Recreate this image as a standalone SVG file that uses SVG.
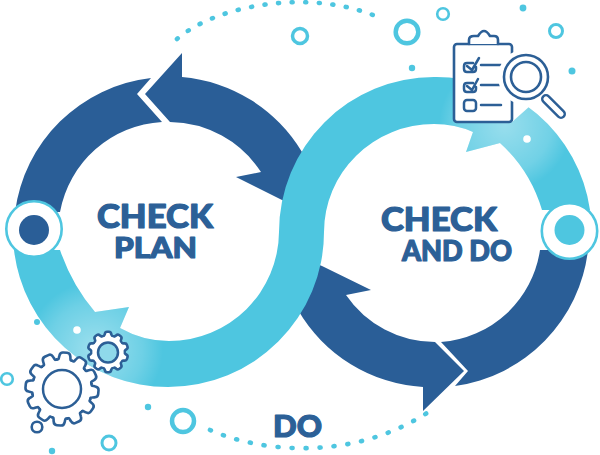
<svg xmlns="http://www.w3.org/2000/svg" xmlns:xlink="http://www.w3.org/1999/xlink" width="600" height="455" viewBox="0 0 600 455">
<style>
.dark{fill:#2A5E97}
.cy{fill:#4EC6E0}
.dot{fill:#4EC6E0}
.ring{fill:#fff;stroke:#4EC6E0}
.lbl{font-family:"Lato","Liberation Sans",sans-serif;font-weight:900;fill:#2C6097;stroke:#2C6097;stroke-width:1.2;paint-order:stroke;stroke-linejoin:round}
.ln{fill:none;stroke:#2C5F96;stroke-width:2.5;stroke-linecap:round;stroke-linejoin:round}
.dots{fill:none;stroke:#4EC6E0;stroke-width:4.6;stroke-linecap:round}
.t{fill:#fff;stroke:#2C5F96;stroke-width:2.6;stroke-linejoin:round;stroke-linecap:round}
</style>
<defs>
<radialGradient id="g1" gradientUnits="userSpaceOnUse" cx="505" cy="125" r="66"><stop offset="0" stop-color="#fff" stop-opacity=".42"/><stop offset=".7" stop-color="#fff" stop-opacity=".2"/><stop offset="1" stop-color="#fff" stop-opacity="0"/></radialGradient>
<radialGradient id="g2" gradientUnits="userSpaceOnUse" cx="95" cy="350" r="68"><stop offset="0" stop-color="#fff" stop-opacity=".45"/><stop offset=".7" stop-color="#fff" stop-opacity=".18"/><stop offset="1" stop-color="#fff" stop-opacity="0"/></radialGradient>
<path id="band" d="M590 210A155 155 0 0 0 434 77A155 155 0 0 0 279 232A110 110 0 0 1 169 341Q143 341 120 328L129 307L95 312Q72 285 60 250L14 250A155 155 0 0 0 168 387A156 155 0 0 0 324 232A110 108 0 0 1 434 124Q455 124 473 132L466 152L500 143Q530 170 542 210Z"/>
<path id="tb" d="M-7.8-29C-5.5-28.5-6-30-5.5-33Q-5-36.5-2-36.5L2-36.5Q5-36.5 5.5-33C6-30 5.5-28.5 7.8-29"/>
<path id="ts" d="M-5.1-15.7C-3.8-15.5-3.6-17-3.2-18Q-2.8-20.2-1-20.2L1-20.2Q2.8-20.2 3.2-18C3.6-17 3.8-15.5 5.1-15.7"/>
</defs>
<g id="connectors">
<path class="dark" d="M15 212A155 155 0 0 1 151 78L137 94L162 122A110 110 0 0 0 60 212Z"/>
<path class="dark" d="M182 53L182 77A155 155 0 0 1 302 152L292 206L282 200L236 177L261 172A110 110 0 0 0 170 122L145 94Z"/>
<path class="dark" d="M588 250A155 155 0 0 1 455 386L468 371L441 342A108 108 0 0 0 540 250Z"/>
<path class="dark" d="M423 411L423 387A155 155 0 0 1 298 310L312 262L322 266L371 290L346 295A108 108 0 0 0 435 342L464 371Z"/>
<use xlink:href="#band" class="cy"/>
<use xlink:href="#band" fill="url(#g1)"/>
<use xlink:href="#band" fill="url(#g2)"/>
<path class="dots" stroke-dasharray="1 12.6" d="M177 39C220 2 320-12 384 20"/>
<path class="dots" stroke-dasharray="1 13" d="M210 430C260 452 350 462 427 413"/>
</g>
<g id="node-left"><circle cx="34" cy="229" r="27.7" class="ring" stroke-width="2.6"/><circle cx="34" cy="230" r="15" class="dark"/></g>
<g id="node-right"><circle cx="569.5" cy="231" r="27.7" class="ring" stroke-width="2.6"/><circle cx="569.5" cy="230" r="15" class="cy"/></g>
<g id="clipboard">
<path fill="#fff" stroke="none" d="M512 122L530 106L545 96L520 50L512 40Z"/>
<rect class="t" x="454" y="44" width="58" height="78" rx="3"/>
<path class="t" d="M469 44L469 40Q469 36 474 36L478 36Q481 31 484 31Q487 31 490 36L494 36Q498 36 498 40L498 44"/>
<path class="ln" d="M481 65L501 65M481 85L501 85M481 105L501 105"/>
<path class="ln" d="M473 63L467 63Q464 63 464 66L464 69Q464 72 467 72L473 72Q476 72 476 69L476 67M467 66L472 70L479 58"/>
<path class="ln" d="M473 83L467 83Q464 83 464 86L464 89Q464 92 467 92L473 92Q476 92 476 89L476 87M467 86L472 90L478 79"/>
<rect class="ln" x="464" y="100" width="12" height="11" rx="3"/>
<circle cx="526" cy="77" r="28" fill="#fff"/>
<path d="M546 99L561 114" stroke="#2C5F96" stroke-width="10" stroke-linecap="round"/>
<path d="M546 99L561 114" stroke="#fff" stroke-width="5.2" stroke-linecap="round"/>
<circle class="t" cx="526" cy="77" r="22"/>
<circle class="t" cx="526" cy="77" r="15"/>
</g>
<g id="gear-small">
<circle cx="108" cy="352" r="16.5" fill="#fff"/>
<g transform="translate(108 352)"><use xlink:href="#ts" class="t"/><use xlink:href="#ts" class="t" transform="rotate(36)"/><use xlink:href="#ts" class="t" transform="rotate(72)"/><use xlink:href="#ts" class="t" transform="rotate(108)"/><use xlink:href="#ts" class="t" transform="rotate(144)"/><use xlink:href="#ts" class="t" transform="rotate(180)"/><use xlink:href="#ts" class="t" transform="rotate(216)"/><use xlink:href="#ts" class="t" transform="rotate(252)"/><use xlink:href="#ts" class="t" transform="rotate(288)"/><use xlink:href="#ts" class="t" transform="rotate(324)"/></g>
<circle cx="108" cy="352" r="15.6" fill="#fff"/>
<circle cx="108" cy="352.500" r="10" fill="#8FD9EA" stroke="#2C5F96" stroke-width="2.5"/>
</g>
<g id="gear-big">
<circle cx="62" cy="389" r="30" fill="#fff"/>
<g transform="translate(62 389) rotate(5)"><use xlink:href="#tb" class="t"/><use xlink:href="#tb" class="t" transform="rotate(30)"/><use xlink:href="#tb" class="t" transform="rotate(60)"/><use xlink:href="#tb" class="t" transform="rotate(90)"/><use xlink:href="#tb" class="t" transform="rotate(120)"/><use xlink:href="#tb" class="t" transform="rotate(150)"/><use xlink:href="#tb" class="t" transform="rotate(180)"/><use xlink:href="#tb" class="t" transform="rotate(210)"/><use xlink:href="#tb" class="t" transform="rotate(240)"/><use xlink:href="#tb" class="t" transform="rotate(270)"/><use xlink:href="#tb" class="t" transform="rotate(300)"/><use xlink:href="#tb" class="t" transform="rotate(330)"/></g>
<circle cx="62" cy="389" r="28.500" fill="#fff"/>
<circle cx="62" cy="389" r="19" fill="#fff" stroke="#2C5F96" stroke-width="2.5"/>
</g>
<g id="decor">
<circle class="ring" cx="300" cy="36" r="7.500" stroke-width="3.500"/>
<circle class="ring" cx="407" cy="32" r="11.300" stroke-width="4.500"/>
<circle class="ring" cx="443" cy="14" r="5.800" stroke-width="2.600"/>
<circle class="ring" cx="556" cy="31" r="6.500" stroke-width="3"/>
<circle class="ring" cx="7" cy="379" r="5.800" stroke-width="2.600"/>
<circle class="ring" cx="183" cy="421" r="11" stroke-width="4.500"/>
<circle class="ring" cx="109" cy="443" r="7" stroke-width="3"/>
<circle cx="37" cy="427" r="5.300" fill="#fff" stroke="#2C5F96" stroke-width="2.600"/>
<circle class="dot" cx="523" cy="8" r="3.400"/>
<circle class="dot" cx="412" cy="68" r="3.200"/>
<circle class="dot" cx="572" cy="71" r="3.500"/>
<circle class="dot" cx="148" cy="407" r="3.200"/>
<circle class="dot" cx="52" cy="451" r="3.200"/>
<circle class="dot" cx="37" cy="322" r="3"/>
<circle cx="527" cy="139" r="3.800" fill="#fff"/>
<circle cx="77" cy="330" r="3.800" fill="#fff"/>
</g>
<g id="labels">
<text class="lbl" x="97" y="228" font-size="32" textLength="116" lengthAdjust="spacingAndGlyphs">CHECK</text>
<text class="lbl" x="114" y="258" font-size="29" textLength="83" lengthAdjust="spacingAndGlyphs">PLAN</text>
<text class="lbl" x="381" y="231" font-size="32" textLength="116" lengthAdjust="spacingAndGlyphs">CHECK</text>
<text class="lbl" x="402" y="261" font-size="28" textLength="110" lengthAdjust="spacingAndGlyphs">AND DO</text>
<text class="lbl" x="273" y="437" font-size="31" textLength="49" lengthAdjust="spacingAndGlyphs">DO</text>
</g>
</svg>
